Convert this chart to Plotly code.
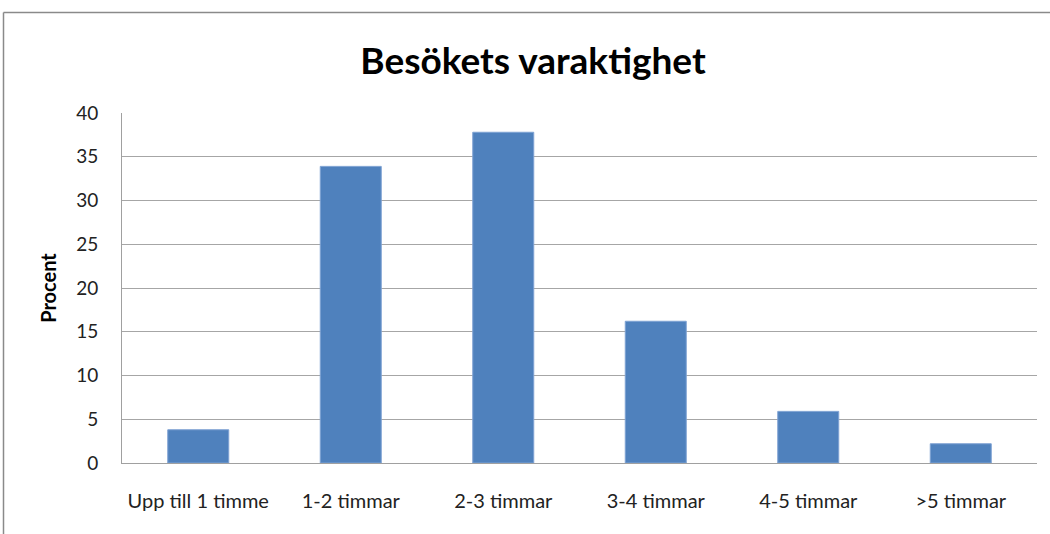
import plotly.graph_objects as go

categories = ["Upp till 1 timme", "1-2 timmar", "2-3 timmar", "3-4 timmar", "4-5 timmar", ">5 timmar"]
values = [3.8, 33.9, 37.8, 16.2, 5.9, 2.2]
y_ticks = [0, 5, 10, 15, 20, 25, 30, 35, 40]

W, H = 1050, 534
ML, MR, MT, MB = 122, 13, 113, 71
PW, PH = W - ML - MR, H - MT - MB

def px_x(p):
    return (p - ML) / PW

def px_y(p):
    return (H - MB - p) / PH

FONT = "Lato"

fig = go.Figure(go.Bar(
    x=categories, y=values,
    marker=dict(color="#4F81BD", line=dict(color="#7FA2D3", width=1)),
    width=0.4,
))

border = "#8A8A8A"
fig.update_layout(
    width=W, height=H,
    margin=dict(l=ML, r=MR, t=MT, b=MB),
    paper_bgcolor="white", plot_bgcolor="white",
    showlegend=False,
    title=dict(text="<b>Besökets varaktighet</b>", x=533 / W, xref="container", xanchor="center",
               y=1 - 61 / H, yref="container", yanchor="middle",
               font=dict(family=FONT, size=37, color="black")),
    font=dict(family=FONT, color="#222222"),
    xaxis=dict(showline=True, linecolor="#A0A0A0", linewidth=1, showgrid=False,
               ticks="", tickfont=dict(size=20, color="#222222"), ticklabelstandoff=20),
    yaxis=dict(range=[0, 40], tickvals=y_ticks, showgrid=True, gridcolor="#A6A6A6", gridwidth=1,
               showline=True, linecolor="#A0A0A0", linewidth=1, ticks="",
               tickfont=dict(size=19, color="#222222"), ticklabelstandoff=19, zeroline=False,
               title=dict(text="<b>Procent</b>", font=dict(size=20, color="black"), standoff=14)),
    shapes=[
        dict(type="line", xref="paper", yref="paper", x0=px_x(3.5), x1=px_x(W + 5),
             y0=px_y(12.5), y1=px_y(12.5), line=dict(color=border, width=1.5)),
        dict(type="line", xref="paper", yref="paper", x0=px_x(3.5), x1=px_x(3.5),
             y0=px_y(12.5), y1=px_y(H + 5), line=dict(color=border, width=1.5)),
    ],
)

fig.write_html("out.html", config={"displayModeBar": False},
               post_script="document.body.style.margin='0';document.body.style.overflow='hidden';")
